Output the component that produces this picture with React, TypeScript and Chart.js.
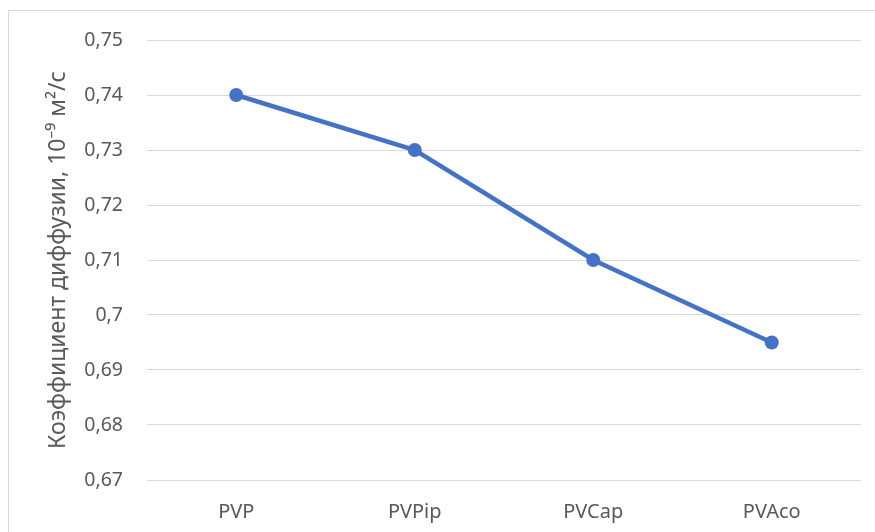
import React, { useEffect, useRef } from "react";
import { Chart, registerables } from "chart.js";

Chart.register(...registerables);

// Polymer samples and their measured diffusion coefficients
const categories: string[] = ["PVP", "PVPip", "PVCap", "PVAco"];
const diffusion: number[] = [0.74, 0.73, 0.71, 0.695];

// Value axis range
const yMin = 0.67;
const yMax = 0.75;
const yStep = 0.01;

const axisTitle = "Коэффициент диффузии, 10⁻⁹ м²/с";

const FONT = "'Noto Sans', 'Open Sans', sans-serif";
const TEXT = "#595959";
const GRID = "#d9d9d9";
const LINE = "#4472c4";

export default function App() {
  const canvasRef = useRef<HTMLCanvasElement | null>(null);

  useEffect(() => {
    const canvas = canvasRef.current;
    if (!canvas) return;
    const chart = new Chart(canvas, {
      type: "line",
      data: {
        labels: categories,
        datasets: [
          {
            data: diffusion,
            borderColor: LINE,
            backgroundColor: LINE,
            borderWidth: 4.5,
            pointRadius: 7,
            pointBorderWidth: 0,
            pointBackgroundColor: LINE,
            tension: 0,
          },
        ],
      },
      options: {
        animation: false,
        responsive: false,
        maintainAspectRatio: false,
        layout: { padding: { top: 29, right: 14, bottom: 0, left: 0 } },
        plugins: {
          legend: { display: false },
          tooltip: { enabled: false },
        },
        scales: {
          x: {
            offset: true,
            grid: { display: false, drawTicks: false },
            border: { display: false },
            ticks: {
              color: TEXT,
              font: { family: FONT, size: 20 },
              padding: 20,
            },
            afterFit: (scale: any) => {
              scale.height = 52;
            },
          },
          y: {
            min: yMin,
            max: yMax,
            grid: { color: GRID, lineWidth: 1, drawTicks: false },
            border: { display: false },
            ticks: {
              stepSize: yStep,
              color: TEXT,
              font: { family: FONT, size: 19.5 },
              padding: 24,
              callback: (v: any) =>
                String(Math.round(Number(v) * 1000) / 1000).replace(".", ","),
            },
            title: {
              display: true,
              text: axisTitle,
              color: TEXT,
              font: { family: FONT, size: 23, weight: "normal" },
              padding: { top: 36, bottom: 0 },
            },
            afterFit: (scale: any) => {
              scale.width = 138;
              // keep the tick padding from pushing the plot area down
              scale.paddingTop = 12;
              scale.paddingBottom = 12;
            },
          },
        },
      },
    });
    return () => chart.destroy();
  }, []);

  return (
    <div
      style={{
        position: "fixed",
        left: 8,
        top: 10,
        width: 880,
        height: 540,
        borderLeft: `1px solid ${GRID}`,
        borderTop: `1px solid ${GRID}`,
        background: "#fff",
      }}
    >
      <canvas
        ref={canvasRef}
        width={866}
        height={521}
        style={{ display: "block", width: 866, height: 521 }}
      />
    </div>
  );
}
